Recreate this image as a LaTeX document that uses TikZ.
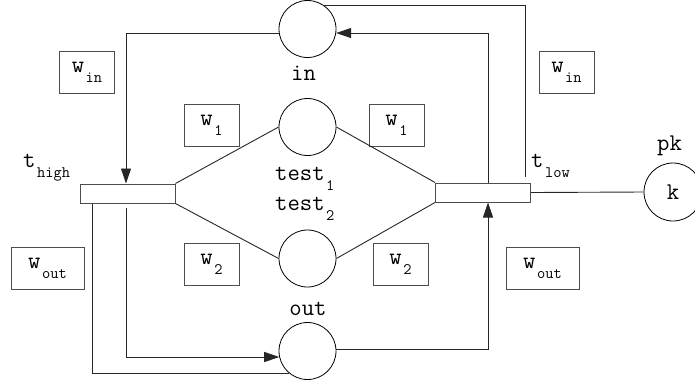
\documentclass[tikz,border=0pt]{standalone}
\usepackage{tikz}
\usetikzlibrary{arrows.meta, positioning}
\newcommand\netfont{\fontsize{24}{26}\fontseries{l}\selectfont\ttfamily}
\newcommand\lowsub[1]{\kern1.5pt\raisebox{-10pt}{\fontsize{16}{16}\selectfont #1}}
\tikzset{
  % places and transitions
  place/.style={circle, draw=black, line width=0.8pt, minimum size=57pt, inner sep=0pt, font=\netfont},
  trans/.style={rectangle, draw=black!70, line width=1pt, minimum width=95pt, minimum height=19pt, inner sep=0pt},
  % weight boxes
  weight/.style={rectangle, draw=black!70, line width=1pt, minimum width=55pt, minimum height=42pt, inner sep=0pt, font=\netfont},
  % names next to places and transitions
  tag/.style={inner sep=0pt, font=\netfont},
  % arcs
  flow/.style={-{Triangle[length=15pt,width=10pt]}, line width=0.9pt, color=black!85},
  link/.style={line width=0.9pt, color=black!85},
}
\begin{document}
\begin{tikzpicture}[x=1pt, y=-1pt]
  \useasboundingbox (0,0) rectangle (695,381);
  \clip (0,0) rectangle (695,381);

  % places
  \node[place] (in) at (307.5,29) {};
  \node[place] (test1) at (307.5,127) {};
  \node[place] (test2) at (307.5,258.5) {};
  \node[place] (out) at (307.5,351) {};
  \node[place, minimum size=58pt] (pk) at (673,192) {k};

  % transitions
  \node[trans] (thigh) at (127.5,193.5) {};
  \node[trans] (tlow) at (483,192.5) {};

  % names
  \node[tag, anchor=base] (lin) at (303.5,80) {in};
  \node[tag, anchor=base west] (ltest1) at (275,180) {test\lowsub{1}};
  \node[tag, anchor=base west] (ltest2) at (275,210) {test\lowsub{2}};
  \node[tag, anchor=base] (lout) at (308,315) {out};
  \node[tag, anchor=base west] (lthigh) at (23,167) {t\lowsub{high}};
  \node[tag, anchor=base west] (ltlow) at (531,167) {t\lowsub{low}};
  \node[tag, anchor=base west] (lpk) at (657,150) {pk};

  % weights
  \node[weight] (win1) at (87,72) {w\lowsub{in}};
  \node[weight] (win2) at (566.5,72) {w\lowsub{in}};
  \node[weight] (w1a) at (211.5,125) {w\lowsub{1}};
  \node[weight] (w1b) at (396.5,125) {w\lowsub{1}};
  \node[weight] (w2a) at (211.5,264.5) {w\lowsub{2}};
  \node[weight] (w2b) at (400.5,264.5) {w\lowsub{2}};
  \node[weight, minimum width=73pt] (wout1) at (47.5,268.5) {w\lowsub{out}};
  \node[weight, minimum width=73pt] (wout2) at (542.5,268.5) {w\lowsub{out}};

  % arcs round in
  \draw[flow] (in.188) -| ([xshift=-1.5pt]thigh.north);
  \draw[flow] ([xshift=5pt]tlow.north) |- (in.-8);
  \draw[link, shorten >=6pt] (in.54) -| ([xshift=42pt]tlow.north);

  % test arcs
  \draw[link] (thigh.north east) -- (test1.west);
  \draw[link] (thigh.south east) -- (test2.west);
  \draw[link] (test1.east) -- (tlow.north west);
  \draw[link] (test2.east) -- (tlow.south west);
  \draw[link] (tlow.east) -- (pk.west);

  % arcs round out
  \draw[flow, shorten <=4pt] ([xshift=-1.5pt]thigh.south) |- (out.192);
  \draw[link] (out.230) -| ([xshift=-35.5pt]thigh.south);
  \draw[flow] (out.4) -| ([xshift=5pt]tlow.south);
\end{tikzpicture}
\end{document}
